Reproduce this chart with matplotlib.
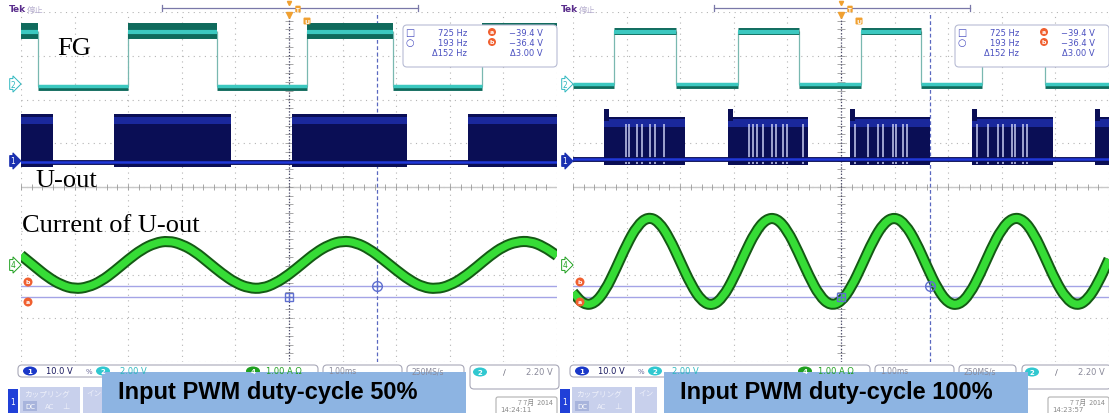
import numpy as np
import matplotlib.pyplot as plt
from matplotlib.patches import FancyBboxPatch, Rectangle, Ellipse, PathPatch
from matplotlib.path import Path

#==============================================================================
# Data read off the two scope screens (units = screen divisions,
# x: 0..10 divisions of time, y: -4..4 divisions)
#==============================================================================
# FG (channel 2): edge times, first state, high / low level
fg50_edges = [0.32, 2.00, 3.66, 5.34, 6.94, 8.60]
fg50_first_high = True
fg50_high, fg50_low = 3.57, 2.32

fg100_edges = [0.76, 1.92, 3.08, 4.22, 5.37, 6.49, 7.63, 8.81]
fg100_first_high = False
fg100_high, fg100_low = 3.57, 2.35

# U-out (channel 1): PWM bursts (start, end), top level and baseline
uout50_bursts = [(0.0, 0.60), (1.74, 3.92), (5.06, 7.20), (8.34, 10.0)]
uout50_top, uout50_base = 1.66, 0.58

uout100_bursts = [(0.58, 2.09), (2.89, 4.38), (5.17, 6.66), (7.44, 8.96), (9.74, 10.0)]
uout100_top, uout100_base = 1.60, 0.63
# switching gaps visible inside the 100 % bursts
uout100_gaps = [0.99, 1.04, 1.19, 1.29, 1.44, 1.53, 1.70,
                3.28, 3.36, 3.43, 3.54, 3.71, 3.79, 3.92, 3.99, 4.29,
                5.26, 5.50, 5.69, 5.78, 5.97, 6.03, 6.16, 6.23,
                7.54, 7.74, 7.93, 8.02, 8.19, 8.25, 8.40, 8.47]

# current of U-out (channel 4), sampled every 0.25 div (50 %) / 0.2 div (100 %)
cur50 = [-1.56, -1.81, -2.06, -2.24, -2.33, -2.29, -2.15, -1.92, -1.66, -1.43,
         -1.28, -1.23, -1.31, -1.48, -1.73, -1.98, -2.19, -2.31, -2.32, -2.20,
         -2.00, -1.75, -1.50, -1.32, -1.23, -1.27, -1.42, -1.65, -1.90, -2.13,
         -2.29, -2.33, -2.25, -2.07, -1.83, -1.57, -1.36, -1.25, -1.24, -1.36,
         -1.57]
cur100 = [-2.41, -2.69, -2.67, -2.37, -1.87, -1.32, -0.88, -0.68, -0.79, -1.17,
          -1.70, -2.23, -2.61, -2.72, -2.52, -2.08, -1.53, -1.03, -0.73, -0.71,
          -0.99, -1.48, -2.03, -2.49, -2.71, -2.63, -2.28, -1.76, -1.22, -0.82,
          -0.68, -0.85, -1.26, -1.81, -2.33, -2.66, -2.70, -2.45, -1.98, -1.42,
          -0.95, -0.70, -0.74, -1.07, -1.59, -2.14, -2.55, -2.72, -2.58, -2.19,
          -1.65]

# cursors
cursor_h = [-2.26, -2.51]
cursor_v50, cursor_v100 = 6.64, 6.66

# measurement read-outs
meas_freq = ['725 Hz', '193 Hz', '\u0394152 Hz']
meas_volt = ['\u221239.4 V', '\u221236.4 V', '\u03943.00 V']
captions = ['Input PWM duty-cycle 50%', 'Input PWM duty-cycle 100%']
dates = [('7 7\u6708  2014', '14:24:11'), ('7 7\u6708  2014', '14:23:57')]

CJK = ['Noto Sans CJK JP', 'DejaVu Sans']
W, H = 1109, 414
fig = plt.figure(figsize=(W / 100, H / 100), dpi=100)


def screen(x0):
    ax = fig.add_axes([x0 / W, (H - 363) / H, 536 / W, 350 / H])
    ax.set_xlim(0, 10)
    ax.set_ylim(-4, 4)
    ax.axis('off')
    for i in range(11):
        ax.axvline(i, color='#b4b4b4', lw=0.8, ls=(0, (1, 4)), zorder=0)
    for j in range(-4, 5):
        ax.axhline(j, color='#b4b4b4', lw=0.8, ls=(0, (1, 4)), zorder=0)
    # centre cross with minor ticks
    ax.axhline(0, color='#c8c8c8', lw=1.0, zorder=0)
    ax.vlines(np.arange(0, 10.01, 0.2), -0.06, 0.06, color='#9a9a9a', lw=0.6, zorder=0)
    ax.hlines(np.arange(-4, 4.01, 0.2), 4.93, 5.07, color='#9a9a9a', lw=0.6, zorder=0)
    ax.axvline(5, color='#4a4a6a', lw=0.9, ls=(0, (1, 1.5)), zorder=1)
    return ax


def draw_fg(ax, edges, first_high, hi, lo, hi_band):
    bounds = [0] + list(edges) + [10]
    state = first_high
    ax.vlines(edges, lo, hi, color='#79b8b0', lw=0.9, zorder=2)
    for a, b in zip(bounds[:-1], bounds[1:]):
        if state:
            ax.hlines(hi, a, b, color='#0f6a5c', lw=hi_band, zorder=2)
            ax.hlines(hi - 0.02, a, b, color='#3cc8c0', lw=3.0, zorder=3)
        else:
            ax.hlines(lo - 0.05, a, b, color='#0f6a5c', lw=3.5, zorder=2)
            ax.hlines(lo, a, b, color='#3cc8c0', lw=2.5, zorder=3)
        state = not state


def draw_uout(ax, bursts, top, base, gaps=None, spike=0.0):
    for a, b in bursts:
        ax.fill_between([a, b], base - 0.12, top, color='#0a0e55', lw=0, zorder=2)
        ax.fill_between([a, b], top - 0.22, top - 0.05, color='#1a289c', lw=0, zorder=2)
        if spike:
            ax.fill_between([a, a + 0.1], top - 0.1, top + spike, color='#0a0e55', lw=0, zorder=2)
    if gaps:
        ax.vlines(gaps, base - 0.1, top - 0.17, color='#c8ccf0', lw=1.1, zorder=3)
    ax.axhline(base, color='#0a0e55', lw=3.5, zorder=3)
    ax.axhline(base, color='#2038d8', lw=1.8, zorder=4)


def smooth_path(x, y):
    # quadratic B-spline through the sample points (midpoints on the curve)
    pts = np.column_stack([x, y])
    mids = (pts[:-1] + pts[1:]) / 2
    verts = [pts[0], mids[0]]
    codes = [Path.MOVETO, Path.LINETO]
    for k in range(1, len(pts) - 1):
        verts += [pts[k], mids[k]]
        codes += [Path.CURVE3, Path.CURVE3]
    verts.append(pts[-1])
    codes.append(Path.LINETO)
    return Path(verts, codes)


def draw_current(ax, vals):
    x = np.linspace(0, 10, len(vals))
    p = smooth_path(x, np.array(vals))
    ax.add_patch(PathPatch(p, fc='none', ec='#145a14', lw=8.0, joinstyle='round', zorder=5))
    ax.add_patch(PathPatch(p, fc='none', ec='#36dc36', lw=5.2, joinstyle='round', zorder=6))


def draw_cursors(ax, xv):
    for yc in cursor_h:
        ax.axhline(yc, color='#a4a4e6', lw=1.0, zorder=1)
    ax.axvline(xv, color='#5a68c0', lw=0.9, ls=(0, (3, 2)), zorder=1)
    ax.plot(xv, cursor_h[0], marker='o', mfc='none', mec='#6070d0', ms=7, zorder=7)
    ax.plot(xv, cursor_h[0], marker='+', color='#6070d0', ms=7, zorder=7)
    ax.plot(5, cursor_h[1], marker='s', mfc='none', mec='#6070d0', ms=6, zorder=7)
    ax.plot(5, cursor_h[1], marker='+', color='#6070d0', ms=6, zorder=7)


#==============================================================================
# The two screens
#==============================================================================
ax1 = screen(21)
draw_cursors(ax1, cursor_v50)
draw_fg(ax1, fg50_edges, fg50_first_high, fg50_high, fg50_low, 11.5)
draw_uout(ax1, uout50_bursts, uout50_top, uout50_base)
draw_current(ax1, cur50)

ax2 = screen(573)
draw_cursors(ax2, cursor_v100)
draw_fg(ax2, fg100_edges, fg100_first_high, fg100_high, fg100_low, 5.0)
draw_uout(ax2, uout100_bursts, uout100_top, uout100_base, uout100_gaps, 0.18)
draw_current(ax2, cur100)

#==============================================================================
# Overlay in pixel coordinates: read-outs, markers, status bar, captions
#==============================================================================
ov = fig.add_axes([0, 0, 1, 1], zorder=5)
ov.set_xlim(0, W)
ov.set_ylim(H, 0)
ov.axis('off')


def overlay(dx, date, time):
    # top line
    ov.text(9 + dx, 10, 'Tek', color='#5a2d8c', fontsize=6.5, weight='bold', va='center')
    ov.text(27 + dx, 10, '\u505c\u6b62', color='#b8b0d0', fontsize=6, va='center', family=CJK)
    ov.plot([162 + dx, 418 + dx], [9, 9], color='#7a78a8', lw=0.9)
    for xe in (162 + dx, 418 + dx):
        ov.plot([xe, xe], [6, 12], color='#7a78a8', lw=0.9)
    ov.plot(289 + dx, 4, marker='v', color='#f0a030', ms=3)
    ov.plot(289 + dx, 16, marker='v', color='#f0a030', ms=4)
    ov.text(298 + dx, 10, 'T', color='white', fontsize=4, ha='center', va='center', weight='bold',
            bbox=dict(boxstyle='round,pad=0.15', fc='#f0a030', ec='none'))
    ov.text(307 + dx, 22, 'U', color='white', fontsize=4.5, ha='center', va='center', weight='bold',
            bbox=dict(boxstyle='round,pad=0.15', fc='#f0a030', ec='none'))

    # measurement box
    ov.add_patch(FancyBboxPatch((403 + dx, 26), 154, 42, boxstyle='round,pad=0,rounding_size=4',
                                fc='white', ec='#b8bcd4', lw=0.8))
    for k, yy in enumerate([33, 43, 53]):
        ov.text(467 + dx, yy, meas_freq[k], color='#4a50c0', fontsize=6, ha='right', va='center')
        ov.text(543 + dx, yy, meas_volt[k], color='#4a50c0', fontsize=6, ha='right', va='center')
    ov.text(410 + dx, 33, '\u25a1', color='#4a50c0', fontsize=7, ha='center', va='center')
    ov.text(410 + dx, 43, '\u25cb', color='#4a50c0', fontsize=7, ha='center', va='center')
    for lab, yy in (('a', 33), ('b', 43)):
        ov.add_patch(Ellipse((492 + dx, yy), 8, 8, fc='#f06030', ec='none'))
        ov.text(492 + dx, yy, lab, color='white', fontsize=4.5, ha='center', va='center', weight='bold')

    # channel markers on the left edge
    ov.text(13 + dx, 85, '2', color='#30b8c0', fontsize=5.5, ha='center', va='center',
            bbox=dict(boxstyle='rarrow,pad=0.12', fc='white', ec='#30b8c0', lw=0.7))
    ov.text(13 + dx, 162, '1', color='white', fontsize=5.5, ha='center', va='center',
            bbox=dict(boxstyle='rarrow,pad=0.12', fc='#1a30b0', ec='#1a30b0', lw=0.7))
    ov.text(13 + dx, 266, '4', color='#20a020', fontsize=5.5, ha='center', va='center',
            bbox=dict(boxstyle='rarrow,pad=0.12', fc='white', ec='#20a020', lw=0.7))
    for lab, yy in (('b', 283), ('a', 303)):
        ov.add_patch(Ellipse((28 + dx, yy), 9, 9, fc='#f06030', ec='none'))
        ov.text(28 + dx, yy, lab, color='white', fontsize=4.5, ha='center', va='center', weight='bold')

    # status bar
    ov.add_patch(FancyBboxPatch((18 + dx, 366), 300, 12, boxstyle='round,pad=0,rounding_size=4',
                                fc='white', ec='#a8a8b8', lw=0.8))
    for xc, col, lab in ((30, '#1a38c8', '1'), (103, '#30c8d0', '2'), (253, '#20a020', '4')):
        ov.add_patch(Ellipse((xc + dx, 372), 14, 9, fc=col, ec='none'))
        ov.text(xc + dx, 372, lab, color='white', fontsize=5, ha='center', va='center', weight='bold')
    ov.text(46 + dx, 372, '10.0 V', color='#1a1a60', fontsize=6, va='center')
    ov.text(86 + dx, 372, '%', color='#6a6a9a', fontsize=5, va='center')
    ov.text(120 + dx, 372, '2.00 V', color='#30b8c0', fontsize=6, va='center')
    ov.text(266 + dx, 372, '1.00 A \u03a9', color='#20a020', fontsize=6, va='center')
    ov.add_patch(FancyBboxPatch((323 + dx, 366), 79, 12, boxstyle='round,pad=0,rounding_size=4',
                                fc='white', ec='#a8a8b8', lw=0.8))
    ov.text(328 + dx, 372, '1.00ms', color='#8a8a9a', fontsize=5.5, va='center')
    ov.add_patch(FancyBboxPatch((407 + dx, 366), 57, 12, boxstyle='round,pad=0,rounding_size=4',
                                fc='white', ec='#a8a8b8', lw=0.8))
    ov.text(412 + dx, 372, '250MS/s', color='#8a8a9a', fontsize=5.5, va='center')
    ov.add_patch(FancyBboxPatch((470 + dx, 366), 89, 24, boxstyle='round,pad=0,rounding_size=4',
                                fc='white', ec='#a8a8b8', lw=0.8))
    ov.add_patch(Ellipse((480 + dx, 373), 14, 9, fc='#30c8d0', ec='none'))
    ov.text(480 + dx, 373, '2', color='white', fontsize=5, ha='center', va='center', weight='bold')
    ov.text(504 + dx, 373, '\u2215', color='#6a6a7a', fontsize=6, ha='center', va='center')
    ov.text(553 + dx, 373, '2.20 V', color='#8a8a9a', fontsize=6, ha='right', va='center')

    # bottom buttons
    ov.add_patch(Rectangle((8 + dx, 390), 10, 24, fc='#2040d8', ec='none'))
    ov.text(13 + dx, 403, '1', color='white', fontsize=5.5, ha='center', va='center')
    ov.add_patch(Rectangle((20 + dx, 388), 60, 26, fc='#c8d0ec', ec='none'))
    ov.text(24 + dx, 395, '\u30ab\u30c3\u30d7\u30ea\u30f3\u30b0', color='#eef0fa', fontsize=5.5,
            va='center', family=CJK)
    ov.add_patch(Rectangle((23 + dx, 402), 14, 10, fc='#a8b4dc', ec='none'))
    ov.text(30 + dx, 407, 'DC', color='white', fontsize=5, ha='center', va='center')
    ov.text(45 + dx, 407, 'AC', color='#eef0fa', fontsize=5, va='center')
    ov.text(62 + dx, 407, '\u22a5', color='#eef0fa', fontsize=6, va='center')
    ov.add_patch(Rectangle((83 + dx, 388), 22, 26, fc='#c8d0ec', ec='none'))
    ov.text(86 + dx, 395, '\u30a4\u30f3', color='#eef0fa', fontsize=5.5, va='center', family=CJK)
    ov.add_patch(FancyBboxPatch((496 + dx, 398), 61, 18, boxstyle='round,pad=0,rounding_size=2',
                                fc='white', ec='#b0b0b0', lw=0.8))
    ov.text(553 + dx, 403, date, color='#8a8a8a', fontsize=5, ha='right', va='center', family=CJK)
    ov.text(500 + dx, 410, time, color='#8a8a8a', fontsize=5, va='center')


overlay(0, *dates[0])
overlay(552, *dates[1])

# trace labels (left screen only)
ov.text(57, 55, 'FG', fontsize=19, family='Liberation Serif', va='baseline')
ov.text(35, 187, 'U-out', fontsize=19, family='Liberation Serif', va='baseline')
ov.text(22, 232, 'Current of U-out', fontsize=19, family='Liberation Serif', va='baseline')

# caption boxes
for x0, txt in zip([102, 664], captions):
    ov.add_patch(Rectangle((x0, 373), 364, 44, fc='#8db4e2', ec='none'))
    ov.text(x0 + 16, 393, txt, fontsize=17, weight='bold', family='Liberation Sans', va='center')

fig.savefig('out.png', dpi=100)
